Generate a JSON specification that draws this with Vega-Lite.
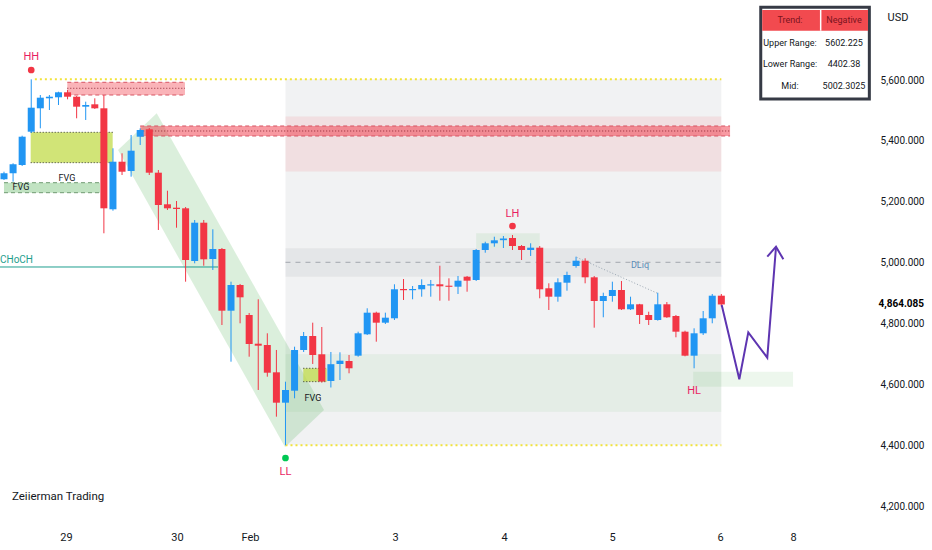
{
  "$schema": "https://vega.github.io/schema/vega-lite/v6.json",
  "width": 855,
  "height": 522,
  "autosize": {"type": "none"},
  "padding": {"left": 0, "top": 0, "right": 77, "bottom": 28},
  "background": "#ffffff",
  "config": {"view": {"stroke": null}, "font": "Roboto"},
  "datasets": {
    "candles": [
      {"x": 0, "o": 5274.4, "h": 5299.3, "l": 5272.1, "c": 5294.1},
      {"x": 1, "o": 5294.1, "h": 5326.9, "l": 5266.6, "c": 5323.6},
      {"x": 2, "o": 5321.3, "h": 5417.4, "l": 5318.0, "c": 5414.1},
      {"x": 3, "o": 5430.5, "h": 5602.2, "l": 5426.2, "c": 5509.2},
      {"x": 4, "o": 5507.2, "h": 5550.8, "l": 5441.6, "c": 5542.0},
      {"x": 5, "o": 5540.0, "h": 5550.8, "l": 5501.6, "c": 5545.2},
      {"x": 6, "o": 5543.3, "h": 5561.6, "l": 5518.0, "c": 5559.7},
      {"x": 7, "o": 5559.7, "h": 5567.2, "l": 5536.7, "c": 5545.2},
      {"x": 8, "o": 5545.2, "h": 5547.5, "l": 5474.4, "c": 5512.5},
      {"x": 9, "o": 5512.5, "h": 5528.9, "l": 5468.9, "c": 5518.0},
      {"x": 10, "o": 5520.3, "h": 5540.0, "l": 5505.0, "c": 5507.2},
      {"x": 11, "o": 5507.2, "h": 5550.8, "l": 5097.4, "c": 5179.3},
      {"x": 12, "o": 5176.1, "h": 5376.1, "l": 5171.5, "c": 5332.1},
      {"x": 13, "o": 5332.1, "h": 5359.7, "l": 5288.5, "c": 5299.3},
      {"x": 14, "o": 5301.6, "h": 5419.7, "l": 5283.0, "c": 5368.2},
      {"x": 15, "o": 5414.1, "h": 5441.6, "l": 5386.9, "c": 5436.1},
      {"x": 16, "o": 5438.4, "h": 5442.6, "l": 5288.5, "c": 5296.1},
      {"x": 17, "o": 5296.1, "h": 5304.9, "l": 5108.2, "c": 5190.2},
      {"x": 18, "o": 5192.5, "h": 5237.0, "l": 5173.8, "c": 5179.3},
      {"x": 19, "o": 5181.3, "h": 5203.3, "l": 5115.7, "c": 5177.1},
      {"x": 20, "o": 5179.3, "h": 5183.6, "l": 4938.7, "c": 5009.8},
      {"x": 21, "o": 5006.6, "h": 5141.0, "l": 4999.0, "c": 5132.1},
      {"x": 22, "o": 5132.1, "h": 5141.0, "l": 4991.1, "c": 5012.1},
      {"x": 23, "o": 5013.1, "h": 5110.5, "l": 4977.1, "c": 5045.9},
      {"x": 24, "o": 5045.9, "h": 5049.2, "l": 4796.7, "c": 4843.6},
      {"x": 25, "o": 4843.6, "h": 4938.7, "l": 4676.4, "c": 4927.9},
      {"x": 26, "o": 4927.9, "h": 4931.2, "l": 4802.3, "c": 4887.5},
      {"x": 27, "o": 4829.5, "h": 4836.1, "l": 4692.8, "c": 4734.4},
      {"x": 28, "o": 4735.4, "h": 4881.0, "l": 4583.6, "c": 4728.9},
      {"x": 29, "o": 4731.1, "h": 4769.5, "l": 4627.2, "c": 4640.3},
      {"x": 30, "o": 4641.6, "h": 4714.8, "l": 4496.1, "c": 4542.0},
      {"x": 31, "o": 4542.0, "h": 4610.8, "l": 4402.4, "c": 4583.6},
      {"x": 32, "o": 4581.3, "h": 4725.6, "l": 4556.4, "c": 4714.8},
      {"x": 33, "o": 4714.8, "h": 4773.8, "l": 4708.2, "c": 4760.7},
      {"x": 34, "o": 4760.7, "h": 4804.3, "l": 4668.9, "c": 4698.4},
      {"x": 35, "o": 4700.7, "h": 4790.2, "l": 4608.0, "c": 4611.5},
      {"x": 36, "o": 4613.1, "h": 4708.2, "l": 4591.8, "c": 4668.2},
      {"x": 37, "o": 4668.9, "h": 4707.2, "l": 4616.4, "c": 4679.7},
      {"x": 38, "o": 4678.7, "h": 4698.4, "l": 4638.4, "c": 4654.8},
      {"x": 39, "o": 4696.1, "h": 4774.8, "l": 4692.8, "c": 4769.5},
      {"x": 40, "o": 4766.2, "h": 4851.5, "l": 4764.0, "c": 4837.1},
      {"x": 41, "o": 4837.1, "h": 4840.3, "l": 4742.0, "c": 4804.3},
      {"x": 42, "o": 4804.3, "h": 4837.1, "l": 4800.0, "c": 4820.7},
      {"x": 43, "o": 4818.7, "h": 4930.2, "l": 4813.1, "c": 4913.8},
      {"x": 44, "o": 4914.8, "h": 4947.5, "l": 4878.7, "c": 4910.8},
      {"x": 45, "o": 4910.8, "h": 4924.6, "l": 4881.0, "c": 4914.8},
      {"x": 46, "o": 4913.8, "h": 4946.5, "l": 4889.5, "c": 4927.9},
      {"x": 47, "o": 4926.2, "h": 4944.3, "l": 4889.5, "c": 4930.2},
      {"x": 48, "o": 4930.2, "h": 4991.1, "l": 4876.4, "c": 4923.6},
      {"x": 49, "o": 4925.6, "h": 4949.8, "l": 4876.4, "c": 4921.9},
      {"x": 50, "o": 4922.3, "h": 4957.4, "l": 4898.4, "c": 4942.0},
      {"x": 51, "o": 4955.1, "h": 4957.4, "l": 4905.9, "c": 4942.0},
      {"x": 52, "o": 4944.3, "h": 5045.9, "l": 4941.0, "c": 5042.6},
      {"x": 53, "o": 5042.6, "h": 5069.8, "l": 5033.8, "c": 5064.6},
      {"x": 54, "o": 5064.6, "h": 5086.2, "l": 5053.4, "c": 5074.4},
      {"x": 55, "o": 5074.8, "h": 5088.5, "l": 5049.2, "c": 5080.3},
      {"x": 56, "o": 5081.9, "h": 5091.8, "l": 5042.6, "c": 5055.7},
      {"x": 57, "o": 5055.7, "h": 5059.0, "l": 5009.8, "c": 5042.6},
      {"x": 58, "o": 5042.6, "h": 5064.6, "l": 5023.0, "c": 5050.2},
      {"x": 59, "o": 5050.2, "h": 5055.7, "l": 4884.3, "c": 4913.8},
      {"x": 60, "o": 4917.1, "h": 4933.4, "l": 4845.9, "c": 4889.5},
      {"x": 61, "o": 4889.5, "h": 4949.8, "l": 4873.1, "c": 4936.7},
      {"x": 62, "o": 4935.4, "h": 4971.5, "l": 4909.2, "c": 4960.7},
      {"x": 63, "o": 4990.2, "h": 5020.7, "l": 4984.6, "c": 5007.5},
      {"x": 64, "o": 5007.5, "h": 5015.4, "l": 4933.4, "c": 4953.1},
      {"x": 65, "o": 4953.1, "h": 4957.4, "l": 4787.9, "c": 4875.4},
      {"x": 66, "o": 4875.4, "h": 4902.6, "l": 4822.0, "c": 4891.8},
      {"x": 67, "o": 4891.8, "h": 4938.7, "l": 4873.1, "c": 4911.5},
      {"x": 68, "o": 4911.5, "h": 4941.0, "l": 4845.9, "c": 4848.2},
      {"x": 69, "o": 4848.2, "h": 4889.5, "l": 4845.9, "c": 4864.6},
      {"x": 70, "o": 4864.6, "h": 4866.0, "l": 4800.0, "c": 4829.5},
      {"x": 71, "o": 4829.5, "h": 4840.3, "l": 4796.7, "c": 4813.1},
      {"x": 72, "o": 4813.1, "h": 4902.6, "l": 4811.0, "c": 4864.6},
      {"x": 73, "o": 4864.6, "h": 4872.0, "l": 4820.0, "c": 4822.0},
      {"x": 74, "o": 4826.2, "h": 4829.5, "l": 4756.4, "c": 4774.8},
      {"x": 75, "o": 4774.8, "h": 4778.0, "l": 4694.0, "c": 4696.1},
      {"x": 76, "o": 4696.1, "h": 4785.9, "l": 4654.8, "c": 4769.5},
      {"x": 77, "o": 4769.5, "h": 4842.6, "l": 4764.0, "c": 4818.7},
      {"x": 78, "o": 4818.7, "h": 4898.4, "l": 4802.3, "c": 4892.8},
      {"x": 79, "o": 4892.8, "h": 4898.4, "l": 4856.7, "c": 4864.085}
    ]
  },
  "layer": [
    {
      "data": {"values": [{"x": 31, "x2": 79, "y": 4402.4, "y2": 5602.2}]},
      "mark": {"type": "rect", "color": "#787b86", "opacity": 0.1},
      "encoding": {
        "x": {
          "field": "x", "type": "quantitative",
          "scale": {"domain": [-0.44, 93.72], "nice": false, "zero": false, "padding": 0},
          "axis": {
            "title": null, "grid": false, "domain": false, "ticks": false,
            "values": [6.83, 19.05, 27.09, 43.06, 55.07, 66.96, 78.85, 86.9],
            "labelExpr": "datum.value < 10 ? '29' : datum.value < 20 ? '30' : datum.value < 30 ? 'Feb' : datum.value < 50 ? '3' : datum.value < 60 ? '4' : datum.value < 70 ? '5' : datum.value < 80 ? '6' : '8'",
            "labelPadding": 9, "labelFontSize": 11, "labelColor": "#131722",
            "labelFlush": false, "labelOverlap": false
          }
        },
        "x2": {"field": "x2"},
        "y": {
          "field": "y", "type": "quantitative",
          "scale": {"domain": [4150.8, 5862.3], "nice": false, "zero": false, "padding": 0},
          "axis": {
            "orient": "right", "grid": false, "domain": false, "ticks": false,
            "values": [4200, 4400, 4600, 4800, 5000, 5200, 5400, 5600],
            "format": ",.3f", "labelPadding": 69, "labelFontSize": 10,
            "labelColor": "#131722", "labelAlign": "right",
            "title": "USD", "titleAngle": 0, "titleX": 32, "titleY": 17,
            "titleAlign": "left", "titleBaseline": "middle",
            "titleFontSize": 11, "titleFontWeight": "normal", "titleColor": "#131722"
          }
        },
        "y2": {"field": "y2"}
      }
    },
    {
      "data": {"values": [{"x": 31, "x2": 79, "y": 5300, "y2": 5480}]},
      "mark": {"type": "rect", "color": "#f23645", "opacity": 0.1},
      "encoding": {"x": {"field": "x", "type": "quantitative"}, "x2": {"field": "x2"}, "y": {"field": "y", "type": "quantitative"}, "y2": {"field": "y2"}}
    },
    {
      "data": {"values": [{"x": 31, "x2": 79, "y": 4955.1, "y2": 5048.2}]},
      "mark": {"type": "rect", "color": "#787b86", "opacity": 0.1},
      "encoding": {"x": {"field": "x", "type": "quantitative"}, "x2": {"field": "x2"}, "y": {"field": "y", "type": "quantitative"}, "y2": {"field": "y2"}}
    },
    {
      "data": {"values": [{"x": 31, "x2": 79, "y": 4512.5, "y2": 4700.7}]},
      "mark": {"type": "rect", "color": "#4caf50", "opacity": 0.08},
      "encoding": {"x": {"field": "x", "type": "quantitative"}, "x2": {"field": "x2"}, "y": {"field": "y", "type": "quantitative"}, "y2": {"field": "y2"}}
    },
    {
      "data": {"values": [
        {"x": 12.56, "y": 5370.5, "y2": 5370.5},
        {"x": 16.82, "y": 5490.8, "y2": 5144.9},
        {"x": 30.95, "y": 4744.9, "y2": 4396.7},
        {"x": 35.24, "y": 4518.0, "y2": 4518.0}
      ]},
      "mark": {"type": "area", "color": "#4caf50", "opacity": 0.2},
      "encoding": {"x": {"field": "x", "type": "quantitative"}, "y": {"field": "y", "type": "quantitative"}, "y2": {"field": "y2"}}
    },
    {
      "data": {"values": [
        {"x": 52, "x2": 59, "y": 5048.2, "y2": 5097.4},
        {"x": 75.9, "x2": 86.9, "y": 4594.5, "y2": 4643.6}
      ]},
      "mark": {"type": "rect", "color": "#4caf50", "opacity": 0.1},
      "encoding": {"x": {"field": "x", "type": "quantitative"}, "x2": {"field": "x2"}, "y": {"field": "y", "type": "quantitative"}, "y2": {"field": "y2"}}
    },
    {
      "data": {"values": [{"x": 6.97, "x2": 19.93, "y": 5550.8, "y2": 5592.5}]},
      "mark": {"type": "rect", "color": "#f23645", "opacity": 0.38},
      "encoding": {"x": {"field": "x", "type": "quantitative"}, "x2": {"field": "x2"}, "y": {"field": "y", "type": "quantitative"}, "y2": {"field": "y2"}}
    },
    {
      "data": {"values": [{"x": 15, "x2": 79.96, "y": 5416.4, "y2": 5449.2}]},
      "mark": {"type": "rect", "color": "#f23645", "opacity": 0.5},
      "encoding": {"x": {"field": "x", "type": "quantitative"}, "x2": {"field": "x2"}, "y": {"field": "y", "type": "quantitative"}, "y2": {"field": "y2"}}
    },
    {
      "data": {"values": [
        {"x": 2.94, "x2": 11.97, "y": 5328.9, "y2": 5428.5},
        {"x": 32.96, "x2": 35.54, "y": 4610.9, "y2": 4654.8}
      ]},
      "mark": {"type": "rect", "color": "#c2db4a", "opacity": 0.75},
      "encoding": {"x": {"field": "x", "type": "quantitative"}, "x2": {"field": "x2"}, "y": {"field": "y", "type": "quantitative"}, "y2": {"field": "y2"}}
    },
    {
      "data": {"values": [{"x": 0, "x2": 10.57, "y": 5230.5, "y2": 5263.3}]},
      "mark": {"type": "rect", "color": "#4caf50", "opacity": 0.35},
      "encoding": {"x": {"field": "x", "type": "quantitative"}, "x2": {"field": "x2"}, "y": {"field": "y", "type": "quantitative"}, "y2": {"field": "y2"}}
    },
    {
      "data": {"values": [
        {"x": 6.97, "x2": 19.93, "y": 5592.5},
        {"x": 6.97, "x2": 19.93, "y": 5550.8},
        {"x": 15, "x2": 79.96, "y": 5449.2},
        {"x": 15, "x2": 79.96, "y": 5416.4}
      ]},
      "mark": {"type": "rule", "color": "#d65563", "strokeDash": [4, 3], "strokeWidth": 1},
      "encoding": {"x": {"field": "x", "type": "quantitative"}, "x2": {"field": "x2"}, "y": {"field": "y", "type": "quantitative"}}
    },
    {
      "data": {"values": [
        {"x": 6.97, "x2": 19.93, "y": 5572.8},
        {"x": 15, "x2": 79.96, "y": 5432.8}
      ]},
      "mark": {"type": "rule", "color": "#8e2a36", "strokeDash": [1, 2], "strokeWidth": 1},
      "encoding": {"x": {"field": "x", "type": "quantitative"}, "x2": {"field": "x2"}, "y": {"field": "y", "type": "quantitative"}}
    },
    {
      "data": {"values": [
        {"x": 2.94, "x2": 11.97, "y": 5428.5},
        {"x": 2.94, "x2": 11.97, "y": 5328.9},
        {"x": 32.96, "x2": 35.54, "y": 4654.8},
        {"x": 32.96, "x2": 35.54, "y": 4610.9}
      ]},
      "mark": {"type": "rule", "color": "#333333", "strokeDash": [1, 2], "strokeWidth": 1},
      "encoding": {"x": {"field": "x", "type": "quantitative"}, "x2": {"field": "x2"}, "y": {"field": "y", "type": "quantitative"}}
    },
    {
      "data": {"values": [
        {"x": 0, "x2": 10.57, "y": 5263.3},
        {"x": 0, "x2": 10.57, "y": 5230.5}
      ]},
      "mark": {"type": "rule", "color": "#6f9a72", "strokeDash": [4, 3], "strokeWidth": 1},
      "encoding": {"x": {"field": "x", "type": "quantitative"}, "x2": {"field": "x2"}, "y": {"field": "y", "type": "quantitative"}}
    },
    {
      "data": {"values": [
        {"x": 3.4, "x2": 79, "y": 5602.2},
        {"x": 31, "x2": 79, "y": 4402.4}
      ]},
      "mark": {"type": "rule", "color": "#f2e33a", "strokeDash": [2, 3], "strokeWidth": 2},
      "encoding": {"x": {"field": "x", "type": "quantitative"}, "x2": {"field": "x2"}, "y": {"field": "y", "type": "quantitative"}}
    },
    {
      "data": {"values": [{"x": 31, "x2": 79, "y": 5002.3}]},
      "mark": {"type": "rule", "color": "#a3a6ae", "strokeDash": [5, 5], "strokeWidth": 1},
      "encoding": {"x": {"field": "x", "type": "quantitative"}, "x2": {"field": "x2"}, "y": {"field": "y", "type": "quantitative"}}
    },
    {
      "data": {"values": [{"x": -0.44, "x2": 23.57, "y": 4986.9}]},
      "mark": {"type": "rule", "color": "#1e9e8e", "strokeWidth": 1},
      "encoding": {"x": {"field": "x", "type": "quantitative"}, "x2": {"field": "x2"}, "y": {"field": "y", "type": "quantitative"}}
    },
    {
      "data": {"values": [{"x": 63.07, "x2": 71.95, "y": 5018.7, "y2": 4900.9}]},
      "mark": {"type": "rule", "color": "#9aa6b2", "strokeDash": [1, 2], "strokeWidth": 1},
      "encoding": {"x": {"field": "x", "type": "quantitative"}, "x2": {"field": "x2"}, "y": {"field": "y", "type": "quantitative"}, "y2": {"field": "y2"}}
    },
    {
      "data": {"name": "candles"},
      "mark": {"type": "rule", "strokeWidth": 1},
      "encoding": {
        "x": {"field": "x", "type": "quantitative"},
        "y": {"field": "l", "type": "quantitative"},
        "y2": {"field": "h"},
        "color": {"condition": {"test": "datum.c >= datum.o", "value": "#2196f3"}, "value": "#f23645"}
      }
    },
    {
      "data": {"name": "candles"},
      "mark": {"type": "bar", "size": 7, "orient": "vertical"},
      "encoding": {
        "x": {"field": "x", "type": "quantitative"},
        "y": {"field": "o", "type": "quantitative"},
        "y2": {"field": "c"},
        "color": {"condition": {"test": "datum.c >= datum.o", "value": "#2196f3"}, "value": "#f23645"}
      }
    },
    {
      "data": {"values": [
        {"k": 0, "x": 79.04, "y": 4862.3},
        {"k": 1, "x": 80.98, "y": 4618.7},
        {"k": 2, "x": 81.97, "y": 4772.8},
        {"k": 3, "x": 84.06, "y": 4689.5},
        {"k": 4, "x": 85.02, "y": 5052.5}
      ]},
      "mark": {"type": "line", "color": "#5e35b1", "strokeWidth": 2},
      "encoding": {"x": {"field": "x", "type": "quantitative"}, "y": {"field": "y", "type": "quantitative"}, "order": {"field": "k"}}
    },
    {
      "data": {"values": [
        {"k": 0, "x": 84.06, "y": 5020.7},
        {"k": 1, "x": 85.02, "y": 5053.5},
        {"k": 2, "x": 85.83, "y": 5012.1}
      ]},
      "mark": {"type": "line", "color": "#5e35b1", "strokeWidth": 2},
      "encoding": {"x": {"field": "x", "type": "quantitative"}, "y": {"field": "y", "type": "quantitative"}, "order": {"field": "k"}}
    },
    {
      "data": {"values": [
        {"x": 3, "y": 5632.8},
        {"x": 56, "y": 5121.3}
      ]},
      "mark": {"type": "point", "filled": true, "size": 45, "color": "#f23645", "opacity": 1},
      "encoding": {"x": {"field": "x", "type": "quantitative"}, "y": {"field": "y", "type": "quantitative"}}
    },
    {
      "data": {"values": [{"x": 31, "y": 4360.7}]},
      "mark": {"type": "point", "filled": true, "size": 45, "color": "#00c853", "opacity": 1},
      "encoding": {"x": {"field": "x", "type": "quantitative"}, "y": {"field": "y", "type": "quantitative"}}
    },
    {
      "data": {"values": [
        {"x": 3, "y": 5675.4, "t": "HH"},
        {"x": 56, "y": 5160.7, "t": "LH"},
        {"x": 31, "y": 4314.7, "t": "LL"},
        {"x": 76, "y": 4580.4, "t": "HL"}
      ]},
      "mark": {"type": "text", "color": "#e91e63", "fontSize": 11, "baseline": "middle", "align": "center"},
      "encoding": {"x": {"field": "x", "type": "quantitative"}, "y": {"field": "y", "type": "quantitative"}, "text": {"field": "t"}}
    },
    {
      "data": {"values": [
        {"x": 6.94, "y": 5278.7, "t": "FVG"},
        {"x": 1.87, "y": 5249.2, "t": "FVG"},
        {"x": 34.03, "y": 4557.4, "t": "FVG"}
      ]},
      "mark": {"type": "text", "color": "#131722", "fontSize": 9, "baseline": "middle", "align": "center"},
      "encoding": {"x": {"field": "x", "type": "quantitative"}, "y": {"field": "y", "type": "quantitative"}, "text": {"field": "t"}}
    },
    {
      "data": {"values": [{"x": 70.04, "y": 4993.4, "t": "DLiq"}]},
      "mark": {"type": "text", "color": "#5b8db8", "fontSize": 9, "baseline": "middle", "align": "center"},
      "encoding": {"x": {"field": "x", "type": "quantitative"}, "y": {"field": "y", "type": "quantitative"}, "text": {"field": "t"}}
    },
    {
      "data": {"values": [{"x": -0.44, "y": 5009.8, "t": "CHoCH"}]},
      "mark": {"type": "text", "color": "#1e9e8e", "fontSize": 10, "baseline": "middle", "align": "left"},
      "encoding": {"x": {"field": "x", "type": "quantitative"}, "y": {"field": "y", "type": "quantitative"}, "text": {"field": "t"}}
    },
    {
      "data": {"values": [{"x": 0.88, "y": 4232.8, "t": "Zeiierman Trading"}]},
      "mark": {"type": "text", "color": "#131722", "fontSize": 11.5, "baseline": "middle", "align": "left"},
      "encoding": {"x": {"field": "x", "type": "quantitative"}, "y": {"field": "y", "type": "quantitative"}, "text": {"field": "t"}}
    },
    {
      "data": {"values": [{"x": 101.32, "y": 4864.085, "t": "4,864.085"}]},
      "mark": {"type": "text", "color": "#000000", "fontSize": 10, "fontWeight": "bold", "baseline": "middle", "align": "right"},
      "encoding": {"x": {"field": "x", "type": "quantitative"}, "y": {"field": "y", "type": "quantitative"}, "text": {"field": "t"}}
    },
    {
      "data": {"values": [{"x": 83.34, "x2": 95.3, "y": 5537.7, "y2": 5838.4}]},
      "mark": {"type": "rect", "fill": "#ffffff", "stroke": "#363a45", "strokeWidth": 3},
      "encoding": {"x": {"field": "x", "type": "quantitative"}, "x2": {"field": "x2"}, "y": {"field": "y", "type": "quantitative"}, "y2": {"field": "y2"}}
    },
    {
      "data": {"values": [{"x": 83.5, "x2": 95.15, "y": 5761.6, "y2": 5829.5}]},
      "mark": {"type": "rect", "color": "#f24a4f"},
      "encoding": {"x": {"field": "x", "type": "quantitative"}, "x2": {"field": "x2"}, "y": {"field": "y", "type": "quantitative"}, "y2": {"field": "y2"}}
    },
    {
      "data": {"values": [{"x": 89.94, "y": 5761.6, "y2": 5829.5}]},
      "mark": {"type": "rule", "color": "#ffffff", "strokeWidth": 1.5},
      "encoding": {"x": {"field": "x", "type": "quantitative"}, "y": {"field": "y", "type": "quantitative"}, "y2": {"field": "y2"}}
    },
    {
      "data": {"values": [
        {"x": 86.56, "y": 5795.7, "t": "Trend:"},
        {"x": 92.51, "y": 5795.7, "t": "Negative"}
      ]},
      "mark": {"type": "text", "color": "#7a1420", "fontSize": 9, "baseline": "middle", "align": "center"},
      "encoding": {"x": {"field": "x", "type": "quantitative"}, "y": {"field": "y", "type": "quantitative"}, "text": {"field": "t"}}
    },
    {
      "data": {"values": [
        {"x": 86.56, "y": 5720.3, "t": "Upper Range:"},
        {"x": 92.51, "y": 5720.3, "t": "5602.225"},
        {"x": 86.56, "y": 5652.5, "t": "Lower Range:"},
        {"x": 92.51, "y": 5652.5, "t": "4402.38"},
        {"x": 86.56, "y": 5580.3, "t": "Mid:"},
        {"x": 92.51, "y": 5580.3, "t": "5002.3025"}
      ]},
      "mark": {"type": "text", "color": "#131722", "fontSize": 9, "baseline": "middle", "align": "center"},
      "encoding": {"x": {"field": "x", "type": "quantitative"}, "y": {"field": "y", "type": "quantitative"}, "text": {"field": "t"}}
    }
  ]
}
